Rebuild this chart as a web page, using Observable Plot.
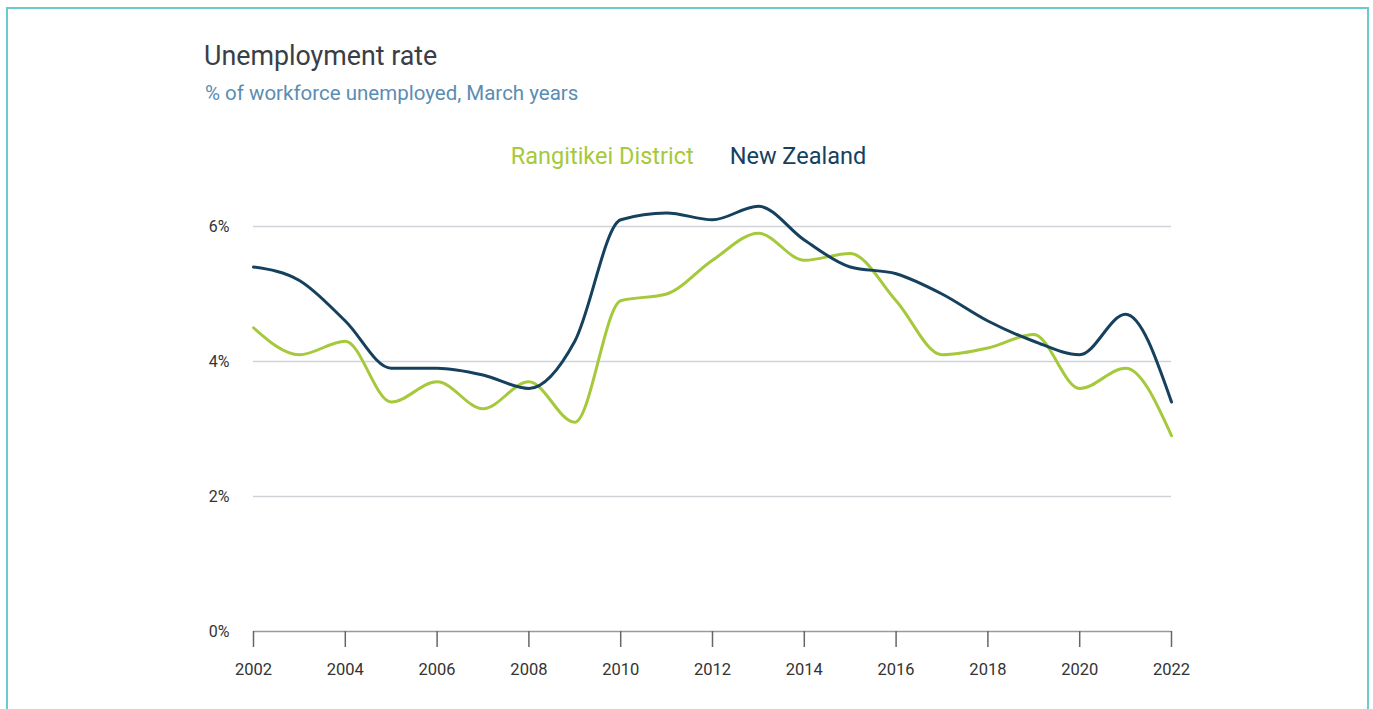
<!DOCTYPE html>
<html>
<head>
<meta charset="utf-8">
<script src="https://cdn.jsdelivr.net/npm/d3@7"></script>
<script src="https://cdn.jsdelivr.net/npm/@observablehq/plot@0.6"></script>
<style>
  html, body { margin: 0; padding: 0; background: #fff; width: 1373px; height: 709px; overflow: hidden; font-family: Roboto, "Open Sans", sans-serif; }
  #frame { position: absolute; left: 6px; top: 7px; width: 1363px; height: 760px; border: 2px solid #6cc9cf; box-sizing: border-box; }
  #title { position: absolute; left: 204px; top: 40px; font-size: 26.8px; color: #3a3e46; white-space: nowrap; }
  #subtitle { position: absolute; left: 205px; top: 81px; font-size: 20.5px; color: #5b8db2; white-space: nowrap; }
  #legend { position: absolute; left: 0; width: 1377px; top: 142px; text-align: center; font-size: 23.5px; white-space: nowrap; }
  #legend span { margin: 0 18px; }
  #chart { position: absolute; left: 0; top: 180px; }
</style>
</head>
<body>
<div id="frame"></div>
<div id="title">Unemployment rate</div>
<div id="subtitle">% of workforce unemployed, March years</div>
<div id="legend"></div>
<div id="chart"></div>
<script>
const years = [2002,2003,2004,2005,2006,2007,2008,2009,2010,2011,2012,2013,2014,2015,2016,2017,2018,2019,2020,2021,2022];
const rangitikei = [4.5,4.1,4.3,3.4,3.7,3.3,3.7,3.1,4.9,5.0,5.5,5.9,5.5,5.6,4.9,4.1,4.2,4.4,3.6,3.9,2.9];
const newZealand = [5.4,5.2,4.6,3.9,3.9,3.8,3.6,4.3,6.1,6.2,6.1,6.3,5.8,5.4,5.3,5.0,4.6,4.3,4.1,4.7,3.4];
const seriesNames = ["Rangitikei District", "New Zealand"];
const seriesColors = ["#a5c93b", "#15405e"];
const yTicks = [0, 2, 4, 6];
const xTicks = [2002,2004,2006,2008,2010,2012,2014,2016,2018,2020,2022];

const data = [];
years.forEach((y, i) => {
  data.push({year: y, value: rangitikei[i], series: seriesNames[0]});
  data.push({year: y, value: newZealand[i], series: seriesNames[1]});
});

const legend = document.getElementById("legend");
seriesNames.forEach((n, i) => {
  const s = document.createElement("span");
  s.textContent = n;
  s.style.color = seriesColors[i];
  legend.appendChild(s);
});

const chart = Plot.plot({
  width: 1373,
  height: 529,
  marginLeft: 253,
  marginRight: 202,
  marginTop: 12.25,
  marginBottom: 78,
  style: { fontFamily: "Roboto, sans-serif", fontSize: "16px", color: "#333" },
  x: { domain: [2002, 2022] },
  y: { domain: [0, 6.5] },
  color: { domain: seriesNames, range: seriesColors },
  marks: [
    Plot.ruleY(yTicks.filter(d => d > 0), { stroke: "#cfd3d8", strokeWidth: 1.5 }),
    Plot.axisY(yTicks, { tickSize: 0, tickPadding: 24, tickFormat: d => d + "%", label: null, fill: "#333", fontSize: 16 }),
    Plot.lineY(data, { x: "year", y: "value", stroke: "series", z: "series", curve: "monotone-x", strokeWidth: 3 }),
    Plot.ruleY([0], { stroke: "#9a9a9a", strokeWidth: 1.5 }),
    Plot.axisX(xTicks, { tickSize: 16, tickPadding: 16, tickFormat: d => String(d), label: null, stroke: "#666", strokeWidth: 1.5, fill: "#333", fontSize: 16.5 })
  ]
});
document.getElementById("chart").appendChild(chart);
</script>
</body>
</html>
